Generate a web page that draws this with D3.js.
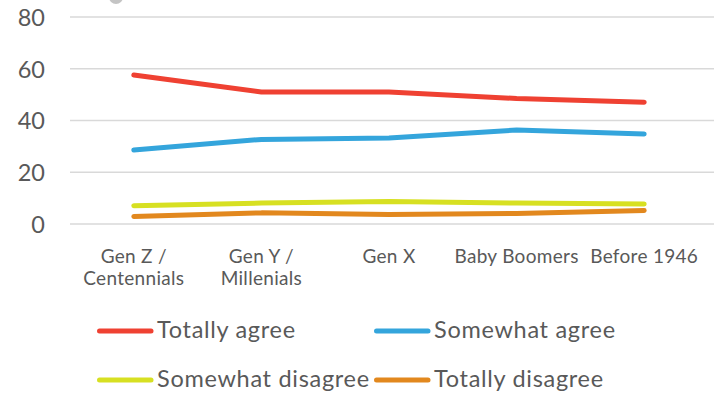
<!DOCTYPE html>
<html>
<head>
<meta charset="utf-8">
<script src="https://d3js.org/d3.v7.min.js"></script>
<style>
  html, body { margin: 0; padding: 0; background: #fff; }
  svg { display: block; font-family: Lato, "Open Sans", sans-serif; }
</style>
</head>
<body>
<svg id="chart" width="714" height="393"></svg>
<script>
// Agreement by generation (%)
const categories = [["Gen Z /", "Centennials"], ["Gen Y /", "Millenials"], ["Gen X"], ["Baby Boomers"], ["Before 1946"]];
const totallyAgree     = [57.6, 51.0, 51.0, 48.5, 47.1];
const somewhatAgree    = [28.6, 32.7, 33.2, 36.3, 34.8];
const somewhatDisagree = [7.1, 8.1, 8.7, 8.1, 7.7];
const totallyDisagree  = [2.9, 4.3, 3.7, 4.1, 5.2];
const yTicks = [0, 20, 40, 60, 80];

const series = [
  { name: "Totally agree", values: totallyAgree, color: "#EF4132" },
  { name: "Somewhat agree", values: somewhatAgree, color: "#34A5DC" },
  { name: "Somewhat disagree", values: somewhatDisagree, color: "#D7E022" },
  { name: "Totally disagree", values: totallyDisagree, color: "#E2881E" }
];

const svg = d3.select("#chart");
const textColor = "#595959";

const x = d3.scaleBand().domain(d3.range(categories.length)).range([70, 708]);
const y = d3.scaleLinear().domain([0, 80]).range([224, 17]);

// small grey marker peeking at the top edge
svg.append("circle").attr("cx", 116).attr("cy", -3).attr("r", 7).attr("fill", "#c4c4c4");

// gridlines
svg.append("g").selectAll("line").data(yTicks).join("line")
  .attr("x1", 70).attr("x2", 714)
  .attr("y1", d => y(d)).attr("y2", d => y(d))
  .attr("stroke", "#d9d9d9").attr("stroke-width", 1.3);

// y axis labels
const yAxis = d3.axisLeft(y).tickValues(yTicks).tickSize(0).tickPadding(0);
const yg = svg.append("g").attr("transform", "translate(45,0)").call(yAxis);
yg.select(".domain").remove();
yg.selectAll("text").attr("fill", textColor).style("font-size", "23.5px")
  .style("font-family", "Lato, sans-serif").attr("dy", "0.36em");

// x axis labels
const xg = svg.append("g");
categories.forEach((lines, i) => {
  const cx = x(i) + x.bandwidth() / 2;
  const t = xg.append("text")
    .attr("x", cx).attr("y", 263)
    .attr("text-anchor", "middle").attr("fill", textColor)
    .style("font-size", "19px").style("letter-spacing", "0.3px");
  lines.forEach((l, j) => t.append("tspan")
    .attr("x", cx).attr("dy", j === 0 ? 0 : 22).text(l));
});

// lines
const line = d3.line().x((d, i) => x(i) + x.bandwidth() / 2).y(d => y(d));
svg.append("g").selectAll("path").data(series).join("path")
  .attr("d", d => line(d.values))
  .attr("fill", "none").attr("stroke", d => d.color)
  .attr("stroke-width", 5).attr("stroke-linecap", "round").attr("stroke-linejoin", "round");

// legend
const legendPos = [
  { x: 97, y: 331 }, { x: 374, y: 331 },
  { x: 97, y: 380 }, { x: 374, y: 380 }
];
const lg = svg.append("g").selectAll("g").data(series).join("g")
  .attr("transform", (d, i) => `translate(${legendPos[i].x},${legendPos[i].y})`);
lg.append("line").attr("x1", 2.5).attr("x2", 54).attr("y1", 0).attr("y2", 0)
  .attr("stroke", d => d.color).attr("stroke-width", 5).attr("stroke-linecap", "round");
lg.append("text").attr("x", 60).attr("y", 7)
  .attr("fill", textColor).style("font-size", "23.5px").style("letter-spacing", "0.7px")
  .text(d => d.name);
</script>
</body>
</html>
